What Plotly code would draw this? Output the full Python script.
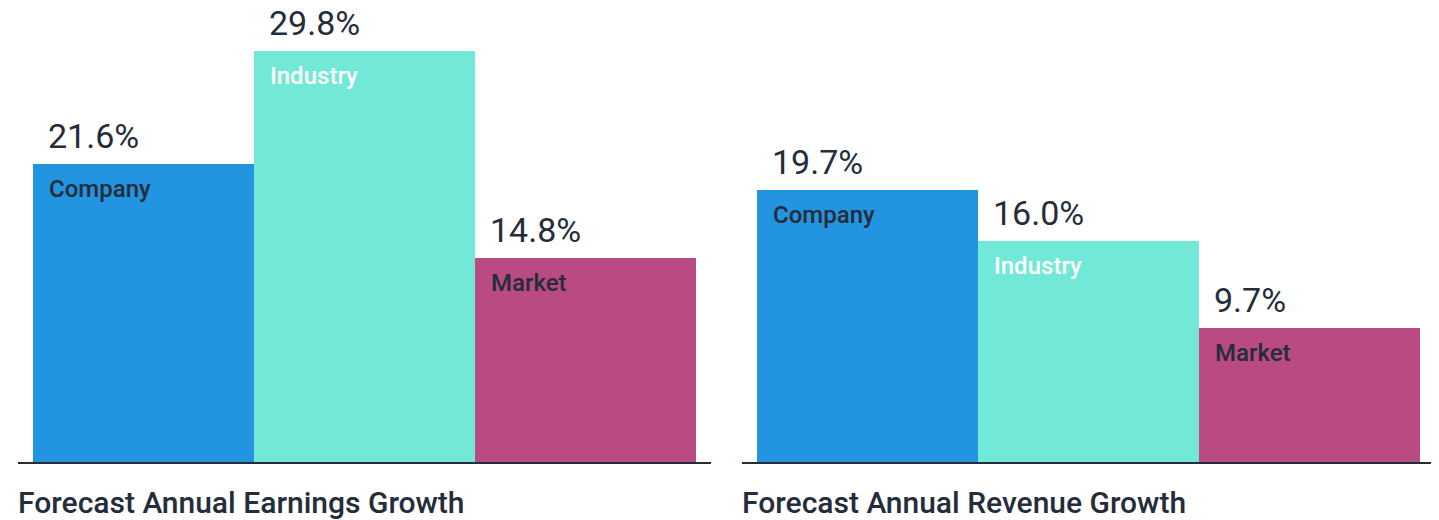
import plotly.graph_objects as go

categories = ["Company", "Industry", "Market"]
earnings_growth = [21.6, 29.8, 14.8]
revenue_growth = [19.7, 16.0, 9.7]
titles = ["Forecast Annual Earnings Growth", "Forecast Annual Revenue Growth"]

bar_colors = ["#2394DF", "#72E9D6", "#BA4A82"]
label_colors = ["#252D3A", "#FFFFFF", "#252D3A"]
dark = "#252D3A"
medium_font = "Roboto Medium, Roboto"

# the page body has an 8px margin; the figure is sized to fill the rest
OFF = 8
W, H = 1439 - OFF, 520 - OFF
BOTTOM = 58
fig = go.Figure()

groups = [(earnings_growth, "x", "y"), (revenue_growth, "x2", "y2")]
for vals, xa, ya in groups:
    fig.add_trace(go.Bar(
        x=categories, y=vals, xaxis=xa, yaxis=ya,
        marker=dict(color=bar_colors, line=dict(width=0)),
        hoverinfo="skip", showlegend=False,
    ))

annotations = []
shapes = []
for gi, (vals, xa, ya) in enumerate(groups):
    for i, v in enumerate(vals):
        annotations.append(dict(
            x=i - 0.5, y=v, xref=xa, yref=ya, xanchor="left", yanchor="bottom",
            xshift=13, yshift=6, showarrow=False,
            text=f"{v:.1f}%", font=dict(family="Roboto", size=34, color=dark),
        ))
        annotations.append(dict(
            x=i - 0.5, y=v, xref=xa, yref=ya, xanchor="left", yanchor="top",
            xshift=14, yshift=-9, showarrow=False,
            text=categories[i],
            font=dict(family=medium_font, size=24, color=label_colors[i]),
        ))
    annotations.append(dict(
        x=0, y=0, xref=f"{xa} domain", yref="paper", xanchor="left", yanchor="top",
        yshift=-21, xshift=-2, showarrow=False, text=titles[gi],
        font=dict(family=medium_font, size=30, color=dark),
    ))
    shapes.append(dict(
        type="line", xref=f"{xa} domain", x0=0, x1=1,
        yref=ya, ysizemode="pixel", yanchor=0, y0=-2.5, y1=-2.5,
        line=dict(color="#D3D6DB", width=1.5), layer="above",
    ))

rng = [-0.5 - 15 / 221, 2.5 + 15 / 221]
ymax = (H - BOTTOM) / 13.8
axis_common = dict(showline=True, linecolor=dark, linewidth=2, showgrid=False,
                   showticklabels=False, ticks="", zeroline=False, range=rng,
                   fixedrange=True)
y_common = dict(range=[0, ymax], visible=False, fixedrange=True)

fig.update_layout(
    width=W, height=H,
    margin=dict(l=0, r=0, t=0, b=BOTTOM),
    paper_bgcolor="white", plot_bgcolor="white",
    bargap=0,
    xaxis=dict(domain=[(18 - OFF) / W, (711 - OFF) / W], anchor="y", **axis_common),
    xaxis2=dict(domain=[(742 - OFF) / W, (1435 - OFF) / W], anchor="y2", **axis_common),
    yaxis=dict(anchor="x", **y_common),
    yaxis2=dict(anchor="x2", **y_common),
    annotations=annotations,
    shapes=shapes,
    font=dict(family="Roboto"),
)

fig.write_html("out.html")
